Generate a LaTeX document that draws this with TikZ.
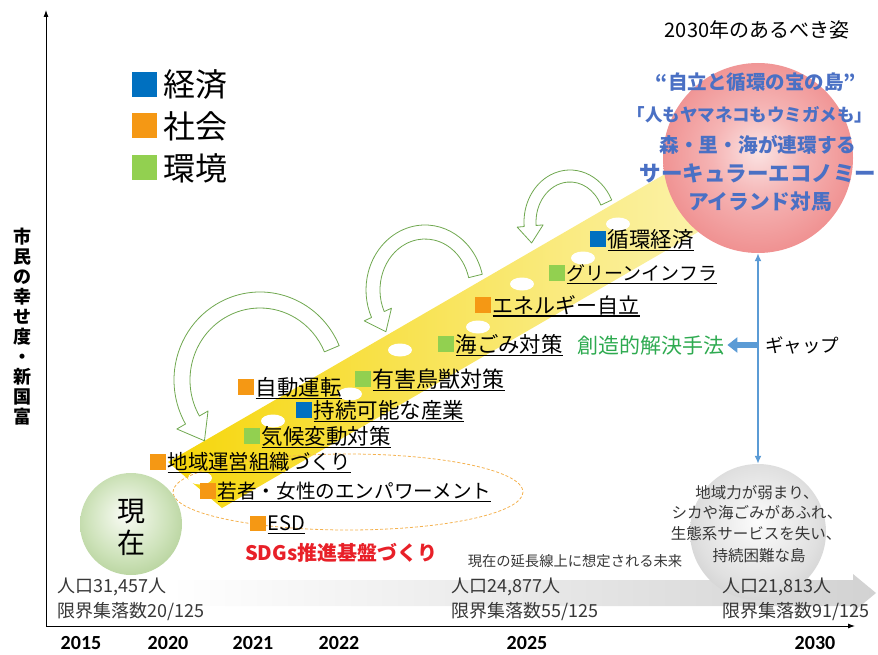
\documentclass[tikz,border=0pt]{standalone}
\usepackage{fontspec}
\setmainfont{Noto Sans CJK JP}
\newfontfamily\calib{Carlito}
\usetikzlibrary{calc,arrows.meta}
\definecolor{cBlue}{RGB}{0,112,192}
\definecolor{cOrange}{RGB}{245,152,20}
\definecolor{cGreen}{RGB}{146,208,80}
\definecolor{arrGreen}{RGB}{112,168,80}
\definecolor{methGreen}{RGB}{46,170,80}
\definecolor{sdgRed}{RGB}{232,32,40}
\definecolor{circBlue}{RGB}{74,112,196}
\definecolor{gapBlue}{RGB}{91,155,213}
\definecolor{txtGray}{RGB}{55,55,55}
\definecolor{yA}{RGB}{246,214,10}
\definecolor{yB}{RGB}{248,226,60}
\definecolor{yC}{RGB}{251,242,170}
\definecolor{rcA}{RGB}{251,228,228}
\definecolor{rcB}{RGB}{245,180,180}
\definecolor{rcM}{RGB}{238,135,135}
\definecolor{rcC}{RGB}{230,100,100}
\definecolor{gcA}{RGB}{250,252,246}
\definecolor{gcB}{RGB}{205,226,185}
\definecolor{gcC}{RGB}{138,180,100}
\definecolor{kcA}{RGB}{252,252,252}
\definecolor{kcB}{RGB}{224,224,224}
\definecolor{kcC}{RGB}{172,172,172}
\definecolor{arrowGray}{RGB}{210,210,210}
\definecolor{dashOr}{RGB}{244,178,80}
\pgfdeclareradialshading{redball}{\pgfpoint{0bp}{2bp}}{color(0bp)=(rcA); color(12bp)=(rcB); color(30bp)=(rcM); color(48bp)=(rcC); color(50bp)=(rcC)}
\pgfdeclareradialshading{greenball}{\pgfpoint{-3bp}{5bp}}{color(0bp)=(gcA); color(20bp)=(gcB); color(48bp)=(gcC); color(50bp)=(gcC)}
\pgfdeclareradialshading{grayball}{\pgfpoint{0bp}{4bp}}{color(0bp)=(kcA); color(22bp)=(kcB); color(48bp)=(kcC); color(50bp)=(kcC)}
\newcommand\fsz[1]{\fontsize{#1}{#1}\selectfont}
\newcommand\ulx[1]{\setbox0=\hbox{#1}\rlap{\rule[-3.5pt]{\wd0}{1.2pt}}\box0}
\newcommand\itm[2]{\textcolor{#1}{\raisebox{\dimexpr0.38em-7.75pt\relax}{\rule{15.5pt}{15.5pt}}}\kern2pt\ulx{#2}}
\newcommand\lgd[2]{\textcolor{#1}{\raisebox{\dimexpr0.38em-12.5pt\relax}{\rule{25pt}{25pt}}}\kern6pt #2}
% #1 cx #2 cy #3 a #4 b #5 tail angle #6 head angle #7 half width #8 head half width #9 head length
\newcommand\curlyarr[9]{%
  \pgfmathsetmacro\cAo{#3+#7}\pgfmathsetmacro\cBo{#4+#7}%
  \pgfmathsetmacro\cAi{#3-#7}\pgfmathsetmacro\cBi{#4-#7}%
  \pgfmathsetmacro\cAw{#3+#8}\pgfmathsetmacro\cBw{#4+#8}%
  \pgfmathsetmacro\cAv{#3-#8}\pgfmathsetmacro\cBv{#4-#8}%
  \pgfmathsetmacro\cTang{#6-90}%
  \draw[curly] ($(#1,#2)+({#5}:{\cAo} and {\cBo})$)
    arc[start angle=#5, end angle=#6, x radius=\cAo, y radius=\cBo]
    -- ($(#1,#2)+({#6}:{\cAw} and {\cBw})$)
    -- ($(#1,#2)+({#6}:{#3} and {#4})+(\cTang:#9)$)
    -- ($(#1,#2)+({#6}:{\cAv} and {\cBv})$)
    -- ($(#1,#2)+({#6}:{\cAi} and {\cBi})$)
    arc[start angle=#6, end angle=#5, x radius=\cAi, y radius=\cBi]
    -- cycle;}
\begin{document}
\begin{tikzpicture}[x=1pt,y=-1pt,
  curly/.style={draw=arrGreen, line width=0.8pt, fill=white, line join=round},
  item/.style={anchor=west, inner sep=0pt},
  lbl/.style={inner sep=0pt},
  year/.style={inner sep=0pt, font=\calib\bfseries\fsz{20}},
  pop/.style={anchor=west, inner sep=0pt, text=txtGray, font=\fsz{18}},
  ctext/.style={inner sep=0pt, text=circBlue},
  gtext/.style={inner sep=0pt, text=txtGray, font=\fsz{15.5}},
  axis/.style={line width=0.9pt, -{Latex[length=7pt,width=5pt]}}]
\useasboundingbox (0,0) rectangle (878,655);
% axes
\coordinate (O) at (46,626);
\coordinate (ytop) at (46,10);
\coordinate (xend) at (855,626);
\draw[axis] (O) -- (ytop);
\draw[axis] (O) -- (xend);
% bottom gray arrow
\shade[left color=white, right color=arrowGray] (170,580) -- (853,580) -- (853,574) -- (876,593) -- (853,612) -- (853,606) -- (170,606) -- cycle;
% yellow band
\shade[left color=yA, middle color=yB, right color=yC] (168,462) -- (665,174) -- (705,228) -- (222,508) -- cycle;
\foreach \px/\py in {200/478, 273/421, 350/394, 400/350, 478/327, 522/284, 583/258, 618/224}
  \fill[white] (\px,\py) ellipse [x radius=12, y radius=6.5];
% dashed ellipse
\draw[dashOr, line width=0.8pt, dash pattern=on 3pt off 2pt] (348,492) ellipse [x radius=175, y radius=38];
% curly arrows
\curlyarr{260}{380}{78}{80}{-23}{-210}{8}{18}{24}
\curlyarr{425}{290}{52}{58}{-14}{-205}{7}{15}{19}
\curlyarr{570}{222}{40}{46}{-25}{-185}{6}{13}{17}
% circles
\node[circle, minimum size=190pt, inner sep=0pt, shade, shading=redball] (redc) at (758,158) {};
\node[circle, minimum size=102pt, inner sep=0pt, shade, shading=greenball] (greenc) at (131,524) {};
\node[circle, minimum size=136pt, inner sep=0pt, shade, shading=grayball] (grayc) at (758,532) {};
% legend
\node[item, font=\fsz{32}] (lg1) at (132,85) {\lgd{cBlue}{経済}};
\node[item, font=\fsz{32}] (lg2) at (132,126) {\lgd{cOrange}{社会}};
\node[item, font=\fsz{32}] (lg3) at (132,168) {\lgd{cGreen}{環境}};
% y label
\node[lbl, align=center, font=\fontsize{18}{20}\selectfont\bfseries] (ylab) at (22,327) {市\\民\\の\\幸\\せ\\度\\・\\新\\国\\富};
% title and red circle text
\node[lbl, font=\fsz{20}] (title) at (757,30) {2030年のあるべき姿};
\node[ctext, font=\fsz{19.5}\bfseries] (c1) at (756,82) {“自立と循環の宝の島”};
\node[ctext, font=\fsz{17.5}\bfseries] (c2) at (750,115) {「人もヤマネコもウミガメも」};
\node[ctext, font=\fsz{19.7}\bfseries] (c3) at (758,145) {森・里・海が連環する};
\node[ctext, font=\fsz{21.5}\bfseries] (c4) at (758,173) {サーキュラーエコノミー};
\node[ctext, font=\fsz{20.7}\bfseries] (c5) at (760,202) {アイランド対馬};
% green circle text
\node[lbl, align=center, font=\fontsize{28}{32}\selectfont] (now) at (131,527) {現\\在};
% gray circle text
\node[gtext] (g1) at (757,493) {地域力が弱まり、};
\node[gtext] (g2) at (757,513) {シカや海ごみがあふれ、};
\node[gtext] (g3) at (756,534) {生態系サービスを失い、};
\node[gtext] (g4) at (759,556) {持続困難な島};
% items
\node[item, font=\fsz{21.5}] (i1) at (590,240) {\itm{cBlue}{循環経済}};
\node[item, font=\fsz{19}] (i2) at (549,274) {\itm{cGreen}{グリーンインフラ}};
\node[item, font=\fsz{21}] (i3) at (475,306) {\itm{cOrange}{エネルギー自立}};
\node[item, font=\fsz{21.4}] (i4) at (438,345) {\itm{cGreen}{海ごみ対策}};
\node[item, font=\fsz{22}] (i5) at (355,380) {\itm{cGreen}{有害鳥獣対策}};
\node[item, font=\fsz{21.5}] (i6) at (238,388) {\itm{cOrange}{自動運転}};
\node[item, font=\fsz{21.5}] (i7) at (296,411) {\itm{cBlue}{持続可能な産業}};
\node[item, font=\fsz{21.5}] (i8) at (244,437) {\itm{cGreen}{気候変動対策}};
\node[item, font=\fsz{20.4}] (i9) at (150,463) {\itm{cOrange}{地域運営組織づくり}};
\node[item, font=\fsz{19.6}] (i10) at (200,492) {\itm{cOrange}{若者・女性のエンパワーメント}};
\node[item, font=\fsz{20}] (i11) at (250,525) {\itm{cOrange}{ESD}};
\node[item, font=\fsz{20}\bfseries, text=sdgRed] (sdg) at (245,553) {SDGs推進基盤づくり};
% method / gap
\node[item, font=\fsz{21}, text=methGreen] (method) at (577,345) {創造的解決手法};
\node[item, font=\fsz{18.5}] (gap) at (765,345) {ギャップ};
\coordinate (gapc) at (758,345);
\draw[gapBlue, line width=1.6pt, {Latex[length=8pt,width=7pt]}-{Latex[length=8pt,width=7pt]}] (redc.south) -- (grayc.north);
\draw[gapBlue, line width=5.5pt, -{Triangle[length=10pt,width=15pt]}] (gapc) -- ([xshift=3pt]method.east);
% future
\node[lbl, font=\fsz{14.3}, text=txtGray] (future) at (575,561) {現在の延長線上に想定される未来};
% population
\node[pop] (p1a) at (57,587) {人口31,457人};
\node[pop] (p1b) at (57,612) {限界集落数20/125};
\node[pop] (p2a) at (451,587) {人口24,877人};
\node[pop] (p2b) at (451,612) {限界集落数55/125};
\node[pop] (p3a) at (722,587) {人口21,813人};
\node[pop] (p3b) at (722,612) {限界集落数91/125};
% years
\node[year] (y1) at (81,643) {2015};
\node[year] (y2) at (168,643) {2020};
\node[year] (y3) at (253,643) {2021};
\node[year] (y4) at (339,643) {2022};
\node[year] (y5) at (527,643) {2025};
\node[year] (y6) at (815,643) {2030};
\end{tikzpicture}
\end{document}
